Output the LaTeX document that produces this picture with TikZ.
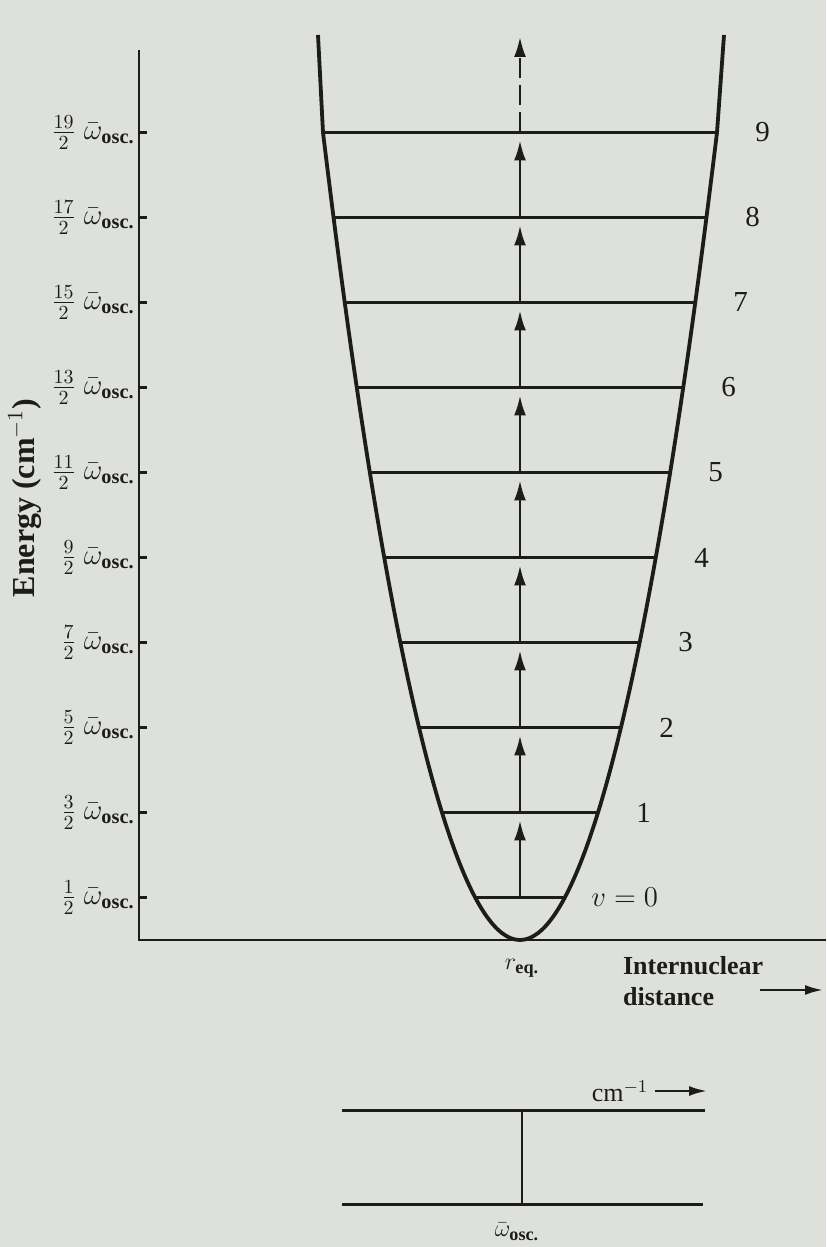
\documentclass[tikz,border=0pt]{standalone}
\usepackage{amsmath}
\usepackage{fontspec}
\setmainfont{Liberation Serif}
\usetikzlibrary{arrows.meta, positioning}
\definecolor{paper}{RGB}{222,224,219}
\definecolor{ink}{RGB}{28,28,28}

\begin{document}
\begin{tikzpicture}[x=50pt,y=50pt,>=Latex,axis/.style={ink, line width=1.2pt},well/.style={ink, line width=1.9pt},level/.style={ink, line width=1.5pt},jump/.style={ink, line width=1.2pt, -{Latex[length=10pt,width=6pt]}},tick/.style={ink, line width=1.2pt},ticklabel/.style={anchor=east, inner sep=0pt, text=ink, font=\fontsize{14.5}{17}\selectfont},vnum/.style={inner sep=0pt, text=ink, font=\fontsize{14.5}{17}\selectfont},axislabel/.style={text=ink, font=\bfseries\fontsize{13}{15.5}\selectfont}]
\fill[paper] (0,0) rectangle (8.26,12.47); \useasboundingbox (0,0) rectangle (8.26,12.47);
% axes and the well
\coordinate (O) at (1.39,3.07); \coordinate (Ytop) at (1.39,11.97); \coordinate (Xend) at (8.26,3.07);
\draw[axis] (Ytop) -- (O) -- (Xend);
% levels v = 0 ... 9
\coordinate (l0) at (4.75,3.495); \coordinate (c0) at (5.20,3.495); \coordinate (r0) at (5.65,3.495);
\coordinate (l1) at (4.42,4.345); \coordinate (c1) at (5.20,4.345); \coordinate (r1) at (5.98,4.345);
\coordinate (l2) at (4.19,5.195); \coordinate (c2) at (5.20,5.195); \coordinate (r2) at (6.21,5.195);
\coordinate (l3) at (4.00,6.045); \coordinate (c3) at (5.20,6.045); \coordinate (r3) at (6.40,6.045);
\coordinate (l4) at (3.84,6.895); \coordinate (c4) at (5.20,6.895); \coordinate (r4) at (6.56,6.895);
\coordinate (l5) at (3.70,7.745); \coordinate (c5) at (5.20,7.745); \coordinate (r5) at (6.70,7.745);
\coordinate (l6) at (3.57,8.595); \coordinate (c6) at (5.20,8.595); \coordinate (r6) at (6.83,8.595);
\coordinate (l7) at (3.45,9.445); \coordinate (c7) at (5.20,9.445); \coordinate (r7) at (6.95,9.445);
\coordinate (l8) at (3.33,10.295); \coordinate (c8) at (5.20,10.295); \coordinate (r8) at (7.07,10.295);
\coordinate (l9) at (3.23,11.145); \coordinate (c9) at (5.20,11.145); \coordinate (r9) at (7.17,11.145);
\coordinate (top) at (5.20,12.10); \coordinate (wl) at (3.18,12.12); \coordinate (wr) at (7.24,12.12);
\draw[well, line join=round] (wl) -- (l9) parabola bend (5.20,3.07) (r9) -- (wr);
\draw[level] (l0) -- (r0); \draw[level] (l1) -- (r1); \draw[level] (l2) -- (r2); \draw[level] (l3) -- (r3); \draw[level] (l4) -- (r4);
\draw[level] (l5) -- (r5); \draw[level] (l6) -- (r6); \draw[level] (l7) -- (r7); \draw[level] (l8) -- (r8); \draw[level] (l9) -- (r9);
\draw[jump] (c0) -- ([yshift=-4pt]c1); \draw[jump] (c1) -- ([yshift=-4pt]c2); \draw[jump] (c2) -- ([yshift=-4pt]c3);
\draw[jump] (c3) -- ([yshift=-4pt]c4); \draw[jump] (c4) -- ([yshift=-4pt]c5); \draw[jump] (c5) -- ([yshift=-4pt]c6);
\draw[jump] (c6) -- ([yshift=-4pt]c7); \draw[jump] (c7) -- ([yshift=-4pt]c8); \draw[jump] (c8) -- ([yshift=-4pt]c9);
\draw[jump, dash pattern=on 10pt off 3.5pt] (c9) -- (top);
\node[vnum, right=13pt of r0] (n0) {$v = 0$};
\node[vnum, right=19pt of r1] (n1) {1}; \node[vnum, right=19pt of r2] (n2) {2}; \node[vnum, right=19pt of r3] (n3) {3};
\node[vnum, right=19pt of r4] (n4) {4}; \node[vnum, right=19pt of r5] (n5) {5}; \node[vnum, right=19pt of r6] (n6) {6};
\node[vnum, right=19pt of r7] (n7) {7}; \node[vnum, right=19pt of r8] (n8) {8}; \node[vnum, right=19pt of r9] (n9) {9};
% ticks on the energy axis
\draw[tick] (1.39,3.495) -- (1.47,3.495); \draw[tick] (1.39,4.345) -- (1.47,4.345); \draw[tick] (1.39,5.195) -- (1.47,5.195);
\draw[tick] (1.39,6.045) -- (1.47,6.045); \draw[tick] (1.39,6.895) -- (1.47,6.895); \draw[tick] (1.39,7.745) -- (1.47,7.745);
\draw[tick] (1.39,8.595) -- (1.47,8.595); \draw[tick] (1.39,9.445) -- (1.47,9.445); \draw[tick] (1.39,10.295) -- (1.47,10.295);
\draw[tick] (1.39,11.145) -- (1.47,11.145);
\node[ticklabel] (t0) at (1.35,3.495) {$\tfrac{1}{2}\;\bar{\omega}_{\textbf{osc.}}$};
\node[ticklabel] (t1) at (1.35,4.345) {$\tfrac{3}{2}\;\bar{\omega}_{\textbf{osc.}}$};
\node[ticklabel] (t2) at (1.35,5.195) {$\tfrac{5}{2}\;\bar{\omega}_{\textbf{osc.}}$};
\node[ticklabel] (t3) at (1.35,6.045) {$\tfrac{7}{2}\;\bar{\omega}_{\textbf{osc.}}$};
\node[ticklabel] (t4) at (1.35,6.895) {$\tfrac{9}{2}\;\bar{\omega}_{\textbf{osc.}}$};
\node[ticklabel] (t5) at (1.35,7.745) {$\tfrac{11}{2}\;\bar{\omega}_{\textbf{osc.}}$};
\node[ticklabel] (t6) at (1.35,8.595) {$\tfrac{13}{2}\;\bar{\omega}_{\textbf{osc.}}$};
\node[ticklabel] (t7) at (1.35,9.445) {$\tfrac{15}{2}\;\bar{\omega}_{\textbf{osc.}}$};
\node[ticklabel] (t8) at (1.35,10.295) {$\tfrac{17}{2}\;\bar{\omega}_{\textbf{osc.}}$};
\node[ticklabel] (t9) at (1.35,11.145) {$\tfrac{19}{2}\;\bar{\omega}_{\textbf{osc.}}$};
\node[axislabel, rotate=90, font=\bfseries\fontsize{16}{18}\selectfont] (energy) at (0.25,7.49) {Energy (cm$^{-1}$)};
\node[text=ink, font=\fontsize{13}{15}\selectfont] (req) at (5.22,2.79) {$r_{\textbf{eq.}}$};
\node[axislabel, align=left, anchor=west] (dist) at (6.16,2.66) {Internuclear\\distance};
\coordinate (da) at (7.60,2.57); \coordinate (db) at (8.23,2.57);
\draw[axis, -{Latex[length=9pt,width=5pt]}] (da) -- (db);
% the single line spectrum
\coordinate (a1) at (3.42,1.36); \coordinate (a2) at (7.05,1.36); \coordinate (am) at (5.22,1.36);
\coordinate (b1) at (3.42,0.42); \coordinate (b2) at (7.03,0.42); \coordinate (bm) at (5.22,0.42);
\draw[level] (a1) -- (a2); \draw[level] (b1) -- (b2); \draw[axis] (am) -- (bm);
\node[text=ink, font=\fontsize{13}{15}\selectfont] (wosc) at (5.17,0.15) {$\bar{\omega}_{\textbf{osc.}}$};
\node[text=ink, font=\fontsize{13}{15}\selectfont] (cm) at (6.20,1.56) {cm$^{-1}$};
\coordinate (ce) at (7.07,1.56);
\draw[axis, -{Latex[length=9pt,width=5pt]}] (cm) -- (ce);
\end{tikzpicture}
\end{document}
